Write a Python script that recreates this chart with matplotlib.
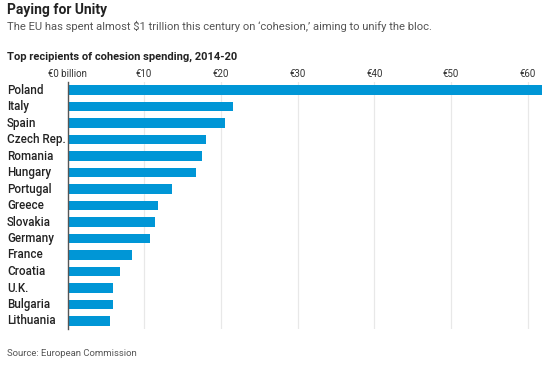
import matplotlib
matplotlib.use("Agg")
import matplotlib.pyplot as plt

countries = ["Poland", "Italy", "Spain", "Czech Rep.", "Romania", "Hungary", "Portugal",
             "Greece", "Slovakia", "Germany", "France", "Croatia", "U.K.", "Bulgaria", "Lithuania"]
values = [77.0, 21.6, 20.5, 18.0, 17.6, 16.8, 13.6, 11.8, 11.4, 10.8, 8.4, 6.9, 5.9, 5.9, 5.6]
tick_vals = [0, 10, 20, 30, 40, 50, 60]
tick_labels = ["€0 billion", "€10", "€20", "€30", "€40", "€50", "€60"]

W, H = 542, 369
fig = plt.figure(figsize=(W/100, H/100), dpi=100)
plt.rcParams['font.family'] = ['Roboto', 'DejaVu Sans']

ax_left, ax_right = 67.5, 542
ax_top, ax_bottom = 81.75, 329.25
ax = fig.add_axes([ax_left/W, 1-ax_bottom/H, (ax_right-ax_left)/W, (ax_bottom-ax_top)/H])

xmax = (ax_right-ax_left)/7.67
ypos = list(range(len(countries)))
ax.barh(ypos, values, height=0.6, color="#0096d6", zorder=3)
ax.set_xlim(0, xmax)
ax.set_ylim(len(countries)-0.5, -0.5)

for v in tick_vals[1:]:
    ax.axvline(v, color="#e8e8e8", lw=0.9, zorder=1)

ax.xaxis.tick_top()
ax.set_xticks(tick_vals)
ax.set_xticklabels(tick_labels, fontsize=7, color="#333333")
ax.tick_params(axis='x', length=0, pad=2)
ax.set_yticks([])
for s in ["top", "right", "bottom"]:
    ax.spines[s].set_visible(False)
ax.spines["left"].set_color("#555555")
ax.spines["left"].set_linewidth(1)
ax.spines["left"].set_zorder(4)

for y, c in zip(ypos, countries):
    ax.text(-60.5/7.67, y, c, ha="left", va="center", fontsize=8.4, color="#222222",
            fontweight="medium", transform=ax.transData)

fig.text(7/W, 1-10/H, "Paying for Unity", fontsize=10, fontweight="bold", color="#222222",
         ha="left", va="center")
fig.text(7/W, 1-26/H, "The EU has spent almost $1 trillion this century on \u2018cohesion,\u2019 aiming to unify the bloc.",
         fontsize=8.1, color="#555555", ha="left", va="center")
fig.text(7/W, 1-57/H, "Top recipients of cohesion spending, 2014-20", fontsize=8.0, fontweight="bold",
         color="#222222", ha="left", va="center")
fig.text(7/W, 1-354/H, "Source: European Commission", fontsize=6.8, color="#555555",
         ha="left", va="center")

fig.savefig("out.png", dpi=100)
